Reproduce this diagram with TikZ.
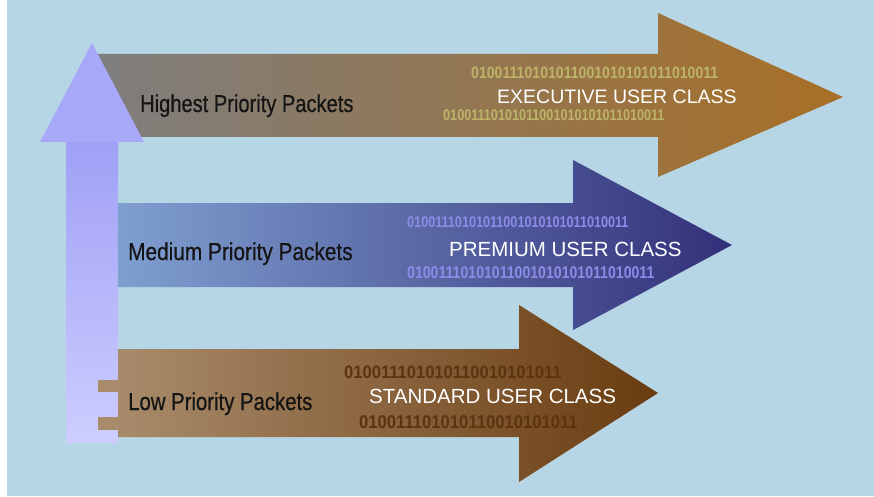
\documentclass[tikz,border=0pt]{standalone}
\usepackage{fontspec}
\setmainfont{Liberation Sans}
\newfontfamily\prioface[FakeBold=0.6]{Liberation Sans}
\usetikzlibrary{calc}
\definecolor{skyback}{HTML}{B6D5E5}
\definecolor{lavhead}{HTML}{A8A8F8}
\definecolor{lavtop}{HTML}{A0A0F6}
\definecolor{lavbot}{HTML}{CDCDFF}
\definecolor{exL}{HTML}{7E7E7E}
\definecolor{exM}{HTML}{8F7357}
\definecolor{exR}{HTML}{A86F26}
\definecolor{prL}{HTML}{7F9FD0}
\definecolor{prM}{HTML}{6474B4}
\definecolor{prR}{HTML}{33307A}
\definecolor{stL}{HTML}{A88B6B}
\definecolor{stM}{HTML}{8A6038}
\definecolor{stR}{HTML}{6A3C10}
\definecolor{exbits}{HTML}{BDB46A}
\definecolor{prbits}{HTML}{8C8CE8}
\definecolor{stbits}{HTML}{5C3410}
\tikzset{
  prio/.style={anchor=base west, inner sep=0pt, text=black!92,
    font=\prioface\fontsize{24.5}{26}\selectfont},
  userclass/.style={anchor=base west, inner sep=0pt, text=white,
    font=\fontsize{20.5}{22}\selectfont},
  bits/.style={anchor=base west, inner sep=0pt, font=\bfseries},
}
\newcommand{\squeeze}[2]{\scalebox{#1}[1]{#2}}
\begin{document}
\begin{tikzpicture}[x=1pt,y=-1pt]
\useasboundingbox (0,0) rectangle (874,497);
\fill[white] (0,0) rectangle (874,497);
\fill[skyback] (7,0) rectangle (874,496);

% executive arrow (top)
\shade[left color=exL, middle color=exM, right color=exR]
  (98,54) -- (658,54) -- (658,13) -- (843,97) -- (658,177) -- (658,137) -- (98,137) -- cycle;

% upward priority arrow
\shade[top color=lavtop, bottom color=lavbot] (66,142) rectangle (118,442);
\fill[lavhead] (92,43) -- (144,142) -- (40,142) -- cycle;

% standard arrow (bottom)
\shade[left color=stL, middle color=stM, right color=stR]
  (118,349) -- (519,349) -- (519,305) -- (658,393) -- (519,482) -- (519,437) -- (118,437) -- cycle;
\fill[stL] (98,380) rectangle (118,392);
\fill[stL] (98,417) rectangle (118,430);

% premium arrow (middle)
\shade[left color=prL, middle color=prM, right color=prR]
  (118,203) -- (573,203) -- (573,160) -- (732,245) -- (573,330) -- (573,287) -- (118,287) -- cycle;

% labels
\node[prio] (hi) at (140,112) {\squeeze{0.82}{Highest Priority Packets}};
\node[prio] (med) at (128,260) {\squeeze{0.85}{Medium Priority Packets}};
\node[prio] (low) at (128,410) {\squeeze{0.83}{Low Priority Packets}};

\node[userclass, font=\fontsize{19.5}{21}\selectfont] (exec) at (497,104) {EXECUTIVE USER CLASS};
\node[userclass] (prem) at (449,256) {PREMIUM USER CLASS};
\node[userclass] (std) at (369,403) {STANDARD USER CLASS};

\node[bits, text=exbits, font=\bfseries\fontsize{16.5}{18}\selectfont] (exa) at (471,79) {\squeeze{0.855}{01001110101011001010101011010011}};
\node[bits, text=exbits, font=\bfseries\fontsize{15.5}{17}\selectfont] (exb) at (443,121) {\squeeze{0.815}{01001110101011001010101011010011}};
\node[bits, text=prbits, font=\bfseries\fontsize{15.5}{17}\selectfont] (pra) at (407,227) {\squeeze{0.815}{01001110101011001010101011010011}};
\node[bits, text=prbits, font=\bfseries\fontsize{17}{19}\selectfont] (prb) at (407,278) {\squeeze{0.83}{01001110101011001010101011010011}};
\node[bits, text=stbits, font=\bfseries\fontsize{18}{20}\selectfont] (sta) at (344,378) {\squeeze{0.92}{010011101010110010101011}};
\node[bits, text=stbits, font=\bfseries\fontsize{18.5}{20}\selectfont] (stb) at (359,428) {\squeeze{0.9}{010011101010110010101011}};
\end{tikzpicture}
\end{document}
